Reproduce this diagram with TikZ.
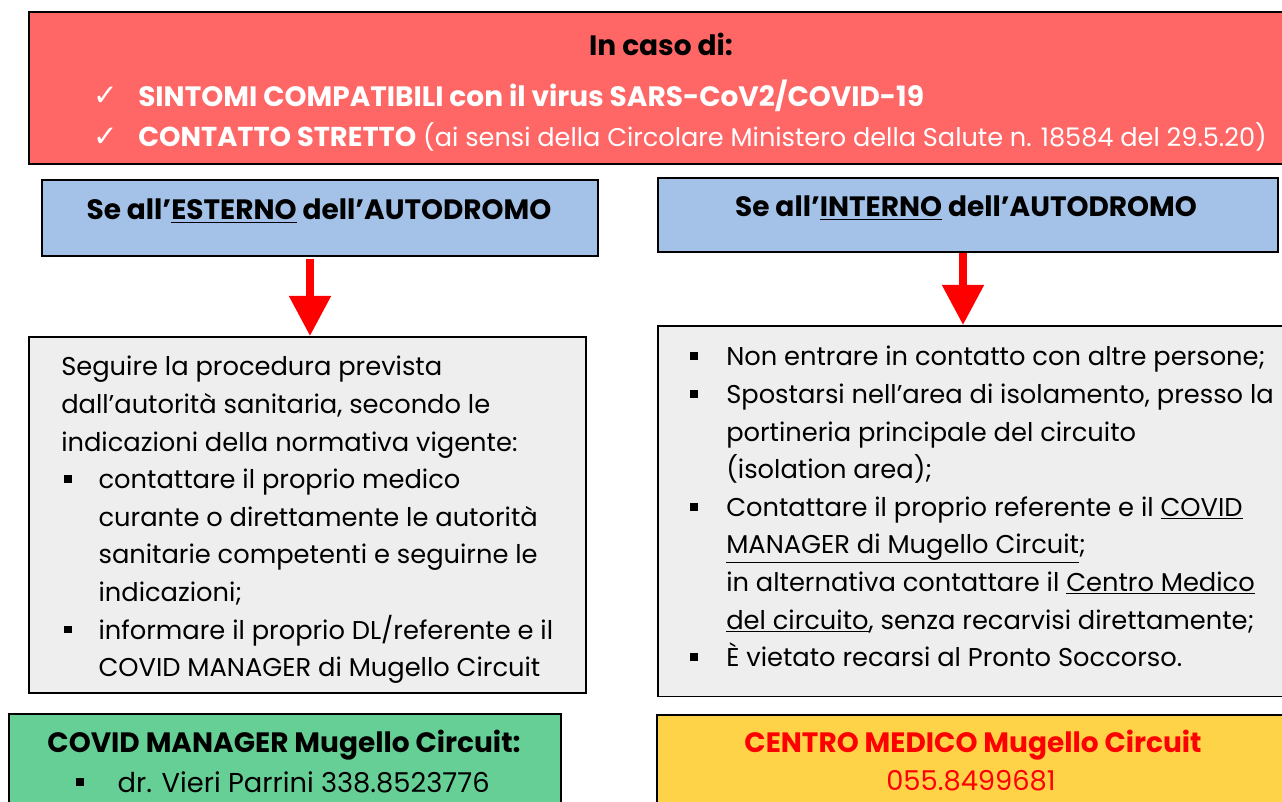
\documentclass[tikz,border=0pt]{standalone}
\usepackage{fontspec}
\setmainfont{Poppins}
\newfontfamily\symfont{DejaVu Sans}
\usetikzlibrary{arrows.meta,calc}
\definecolor{boxred}{RGB}{255,102,102}
\definecolor{boxblue}{RGB}{164,194,232}
\definecolor{boxgray}{RGB}{238,238,238}
\definecolor{boxgreen}{RGB}{102,207,150}
\definecolor{boxyellow}{RGB}{255,211,72}
\definecolor{arrowred}{RGB}{255,0,0}
\newcommand{\bul}{\rule[0.22em]{0.3em}{0.3em}}
\newcommand{\chk}{{\symfont\fontsize{22}{24}\selectfont\char"2713}}
\tikzset{
  panel/.style={draw=black, line width=1.2pt, inner sep=0pt, anchor=north west},
  txt/.style={inner sep=0pt, align=left},
  hdr/.style={txt, font=\bfseries\fontsize{21}{24}\selectfont},
  body/.style={txt, anchor=north west, font=\fontsize{19.3}{28.2}\selectfont},
  flow/.style={draw=arrowred, line width=6pt, -{Triangle[length=30pt,width=30pt]}},
}
\begin{document}
\begin{tikzpicture}[x=0.75pt,y=-0.75pt]
\useasboundingbox (0,0) rectangle (1282,802);
\clip (0,0) rectangle (1282,802);
% boxes
\node[panel, fill=boxred, minimum width=950pt, minimum height=114pt] (top) at (28,11) {};
\node[panel, fill=boxblue, minimum width=417pt, minimum height=57pt] (lb) at (41,179) {};
\node[panel, fill=boxblue, minimum width=465pt, minimum height=55.5pt] (rb) at (657,177) {};
\node[panel, fill=boxgray, minimum width=418pt, minimum height=267pt] (lg) at (28,336) {};
\node[panel, fill=boxgray, minimum width=480pt, minimum height=278pt] (rg) at (657,325) {};
\node[panel, fill=boxgreen, minimum width=414pt, minimum height=81pt] (gr) at (8,713) {};
\node[panel, fill=boxyellow, minimum width=480pt, minimum height=81pt] (ye) at (656,714) {};
% top texts
\node[hdr] (t0) at (661,44) {In caso di:};
\node[txt, text=white] (c1) at (106,96) {\chk};
\node[txt, text=white] (c2) at (106,137) {\chk};
\node[hdr, anchor=west, text=white] (t1) at (138,96)
  {SINTOMI COMPATIBILI con il virus SARS-CoV2/COVID-19};
\node[txt, anchor=west, text=white, font=\fontsize{19.2}{22}\selectfont] (t2) at (138,137)
  {{\bfseries\fontsize{20.5}{22}\selectfont CONTATTO STRETTO} (ai sensi della Circolare Ministero della Salute n. 18584 del 29.5.20)};
% headers
\node[hdr] (lbt) at (319,211) {Se all’\underline{ESTERNO} dell’AUTODROMO};
\node[hdr] (rbt) at (966,208) {Se all’\underline{INTERNO} dell’AUTODROMO};
% left body
\node[body] (lgt) at (61,356) {%
Seguire la procedura prevista\\
dall’autorità sanitaria, secondo le\\
indicazioni della normativa vigente:\\
\makebox[28pt][l]{\hspace{2pt}\bul}contattare il proprio medico\\
\hspace*{28pt}curante o direttamente le autorità\\
\hspace*{28pt}sanitarie competenti e seguirne le\\
\hspace*{28pt}indicazioni;\\
\makebox[28pt][l]{\hspace{2pt}\bul}informare il proprio DL/referente e il\\
\hspace*{28pt}COVID MANAGER di Mugello Circuit};
% right body
\node[body] (rgt) at (690,346) {%
\makebox[27pt][l]{\bul}Non entrare in contatto con altre persone;\\
\makebox[27pt][l]{\bul}Spostarsi nell’area di isolamento, presso la\\
\hspace*{27pt}portineria principale del circuito\\
\hspace*{27pt}(isolation area);\\
\makebox[27pt][l]{\bul}Contattare il proprio referente e il \underline{COVID}\\
\hspace*{27pt}\underline{MANAGER di Mugello Circuit};\\
\hspace*{27pt}in alternativa contattare il \underline{Centro Medico}\\
\hspace*{27pt}\underline{del circuito}, senza recarvisi direttamente;\\
\makebox[27pt][l]{\bul}È vietato recarsi al Pronto Soccorso.};
% bottom texts
\node[hdr] (grt) at (284,745) {COVID MANAGER Mugello Circuit:};
\node[txt, anchor=west, font=\fontsize{20.5}{22}\selectfont] (grl) at (76,782) {\makebox[31pt][l]{\bul}dr. Vieri Parrini 338.8523776};
\node[hdr, text=arrowred] (yet) at (973,745) {CENTRO MEDICO Mugello Circuit};
\node[txt, text=arrowred, font=\fontsize{20.5}{22}\selectfont] (yel) at (971,781) {055.8499681};
% arrows
\coordinate (la) at (310,0);
\coordinate (ra) at (963,0);
\draw[flow, shorten <=2pt] (la |- lb.south) -- (la |- lg.north);
\draw[flow] (ra |- rb.south) -- (ra |- rg.north);
\end{tikzpicture}
\end{document}
